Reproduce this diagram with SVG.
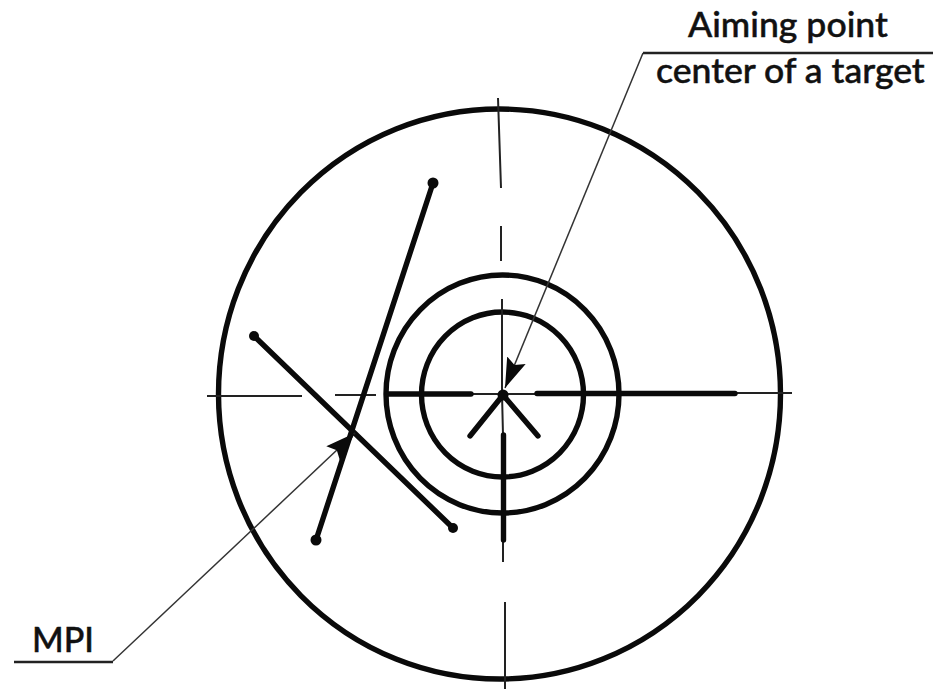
<svg xmlns="http://www.w3.org/2000/svg" width="939" height="689" viewBox="0 0 939 689">
<style>
.thick{fill:none;stroke:#0a0a0a;stroke-width:5.400;stroke-linecap:round}
.thin{fill:none;stroke:#222;stroke-width:2}
.lead{fill:none;stroke:#333;stroke-width:1.500}
.rule{fill:none;stroke:#222;stroke-width:2.600}
.dot{fill:#0a0a0a}
text{font-family:"Lato","Open Sans",sans-serif;fill:#111;stroke:#111;stroke-width:.5;font-size:35.600px;font-weight:500}
</style>
<defs>
<marker id="arr" markerUnits="userSpaceOnUse" markerWidth="34" markerHeight="26" refX="30" refY="13" orient="auto"><path d="M0 3L30 13L0 23L5 13Z" fill="#0a0a0a"/></marker>
</defs>
<rect width="939" height="689" fill="#fff"/>
<g id="target">
<ellipse cx="499.500" cy="394" rx="281" ry="285" class="thick"/>
<ellipse cx="502.500" cy="394" rx="116.500" ry="119" class="thick"/>
<ellipse cx="502.500" cy="394.500" rx="81" ry="82.500" class="thick"/>
</g>
<g id="centerlines">
<path class="thin" d="M207 396H302M335 395H376M472 394H536M736 393H792M498 98L501 188M501 226V261M502 299V394L503 435M503 540V562M505 602V689"/>
<path class="thick" d="M387 394H471M537 393.500H735M503.500 435V540"/>
</g>
<g id="shots">
<path class="thick" d="M433 183L316 540"/>
<path class="thick" d="M254 336L453 528"/>
<path class="thick" d="M503 395L470 436M503 395L538 436"/>
<circle class="dot" cx="433" cy="183" r="5.500"/><circle class="dot" cx="254" cy="336" r="5"/><circle class="dot" cx="316" cy="540" r="5.500"/><circle class="dot" cx="453" cy="528" r="5"/><circle class="dot" cx="503" cy="395" r="5.500"/>
</g>
<g id="connectors">
<path class="lead" marker-end="url(#arr)" d="M643 53L505 388"/>
<path class="lead" marker-end="url(#arr)" d="M113 661L355 433"/>
<path class="rule" d="M643 53H933M14 662H113"/>
</g>
<g id="label-aiming"><text x="688" y="37">Aiming point</text><text x="656" y="83">center of a target</text></g>
<g id="label-mpi"><text x="32" y="652" style="font-size:34px">MPI</text></g>
</svg>
